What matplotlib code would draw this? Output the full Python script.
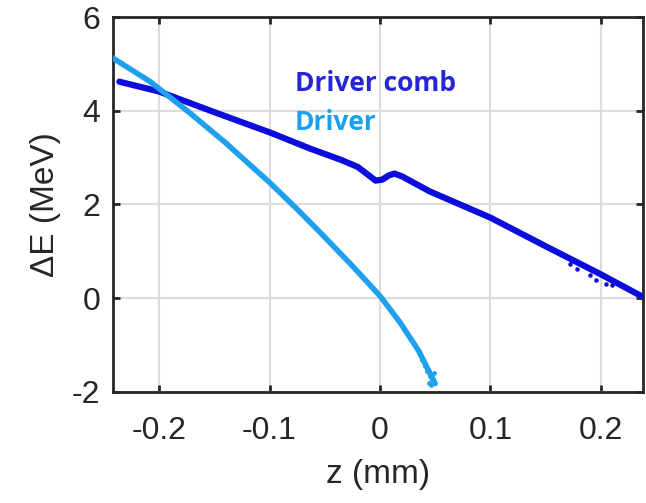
import matplotlib
matplotlib.use('Agg')
import matplotlib.pyplot as plt

plt.rcParams['font.family'] = ['Liberation Sans', 'DejaVu Sans']
plt.rcParams['axes.unicode_minus'] = False

# longitudinal phase space: energy offset vs position
z_comb = [-0.236, -0.2, -0.15, -0.1, -0.063, -0.035, -0.02, -0.01, -0.004, 0.002,
          0.008, 0.013, 0.02, 0.045, 0.1, 0.15, 0.2, 0.238]
dE_comb = [4.62, 4.41, 3.97, 3.54, 3.19, 2.95, 2.80, 2.62, 2.51, 2.53,
           2.62, 2.66, 2.60, 2.28, 1.72, 1.11, 0.51, 0.03]
z_comb_halo = [0.172, 0.178, 0.19, 0.196, 0.205, 0.21]
dE_comb_halo = [0.72, 0.63, 0.50, 0.38, 0.30, 0.28]

z_drv = [-0.245, -0.208, -0.172, -0.14, -0.1, -0.075, -0.054, -0.025, 0.0,
         0.018, 0.035, 0.05]
dE_drv = [5.17, 4.62, 3.95, 3.32, 2.47, 1.90, 1.40, 0.69, 0.05,
          -0.51, -1.12, -1.82]
z_drv_halo = [0.038, 0.041, 0.043, 0.045, 0.047, 0.049, 0.044, 0.046]
dE_drv_halo = [-1.32, -1.45, -1.55, -1.65, -1.72, -1.60, -1.80, -1.86]

xticks = [-0.2, -0.1, 0, 0.1, 0.2]
yticks = [-2, 0, 2, 4, 6]

c_comb = '#0c0cdc'
c_drv = '#1fa0ee'
c_axis = '#262626'

fig = plt.figure(figsize=(6.46, 5.03), dpi=100)
ax = fig.add_axes([0.1745, 0.2207, 0.8205, 0.7455])

ax.plot(z_comb, dE_comb, color=c_comb, lw=4.5, solid_capstyle='round',
        solid_joinstyle='round', zorder=3)
ax.scatter(z_comb_halo, dE_comb_halo, s=5, color=c_comb, zorder=3)
ax.plot(z_drv, dE_drv, color=c_drv, lw=4, solid_capstyle='round',
        solid_joinstyle='round', zorder=3)
ax.scatter(z_drv_halo, dE_drv_halo, s=6, color=c_drv, zorder=3)

ax.text(-0.077, 4.43, 'Driver comb', color='#2626d8', fontsize=19,
        fontweight='bold', family='Open Sans')
ax.text(-0.077, 3.58, 'Driver', color='#1aa0f0', fontsize=19,
        fontweight='bold', family='Open Sans')

ax.set_xlim(-0.242, 0.238)
ax.set_ylim(-2, 6)
ax.set_xticks(xticks)
ax.set_xticklabels(['-0.2', '-0.1', '0', '0.1', '0.2'])
ax.set_yticks(yticks)
ax.grid(True, color='#dcdcdc', lw=1.5)
ax.set_axisbelow(True)

for s in ax.spines.values():
    s.set_linewidth(2)
    s.set_color(c_axis)
ax.tick_params(direction='in', length=5, width=2, color=c_axis,
               top=True, right=True, labelsize=23, labelcolor=c_axis)
ax.tick_params(axis='x', pad=17)
ax.tick_params(axis='y', pad=9)

ax.set_xlabel('z (mm)', fontsize=24, color=c_axis, labelpad=10)
ax.set_ylabel('ΔE (MeV)', fontsize=24, color=c_axis, labelpad=8)

fig.savefig('out.png', dpi=100)
